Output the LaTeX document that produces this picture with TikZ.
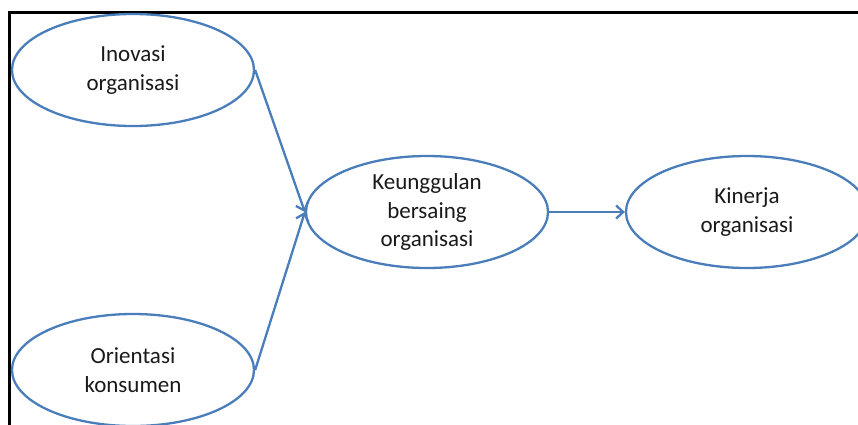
\documentclass[tikz,border=0pt]{standalone}
\usepackage{fontspec}
\setmainfont{Carlito}
\usetikzlibrary{shapes.geometric,arrows.meta}
\definecolor{obl}{HTML}{4A7EBB}
\begin{document}
\begin{tikzpicture}[x=1pt,y=-1pt,
  ell/.style={ellipse,draw=obl,line width=2.3pt,inner sep=0pt,minimum width=242pt,minimum height=112pt},
  lbl/.style={align=center,font=\fontsize{23}{28.5}\selectfont,text=black!90},
  conn/.style={draw=obl,line width=2.3pt,-{Straight Barb[length=7pt,width=13pt,line width=2.3pt]}}]
\useasboundingbox (0,0) rectangle (858,424);
\clip (0,0) rectangle (858,424);
\draw[line width=2.6pt,black] (9.5,426) -- (9.5,12.5) -- (860,12.5);
\node[ell] (ino) at (133,70) {};
\node[lbl] at (ino) {Inovasi\\organisasi};
\node[ell] (ori) at (133,370) {};
\node[lbl] at (ori) {Orientasi\\konsumen};
\node[ell] (keu) at (427,212) {};
\node[lbl] at (keu) {Keunggulan\\bersaing\\organisasi};
\node[ell] (kin) at (747,212) {};
\node[lbl] at (kin) {Kinerja\\organisasi};
\draw[conn] (ino.east) -- (keu.west);
\draw[conn] (ori.east) -- (keu.west);
\draw[conn] (keu.east) -- (kin.west);
\end{tikzpicture}
\end{document}
